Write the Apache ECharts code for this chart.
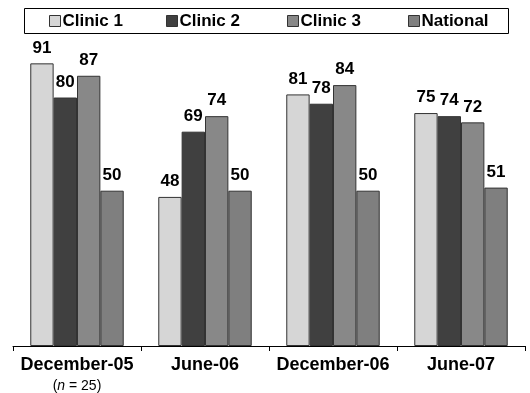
<!DOCTYPE html>
<html>
<head>
<meta charset="utf-8">
<script src="https://cdn.jsdelivr.net/npm/echarts@6/dist/echarts.min.js"></script>
<style>
  html, body { margin: 0; padding: 0; background: #fff; }
  #chart { width: 530px; height: 393px; }
</style>
</head>
<body>
<div id="chart"></div>
<script>
// Survey periods and per-site scores
var categories = ['December-05', 'June-06', 'December-06', 'June-07'];
var seriesNames = ['Clinic 1', 'Clinic 2', 'Clinic 3', 'National'];
var clinic1 = [91, 48, 81, 75];
var clinic2 = [80, 69, 78, 74];
var clinic3 = [87, 74, 84, 72];
var national = [50, 50, 50, 51];

var values = [clinic1, clinic2, clinic3, national];
var colors = ['#d6d6d6', '#404040', '#888888', '#7f7f7f'];
var FONT = '"Liberation Sans", Arial, sans-serif';

var chart = echarts.init(document.getElementById('chart'), null, { renderer: 'canvas' });

var series = seriesNames.map(function (name, i) {
  return {
    name: name,
    type: 'bar',
    data: values[i],
    barGap: '0%',
    barCategoryGap: '27%',
    itemStyle: { color: colors[i], borderColor: '#333', borderWidth: 1 },
    label: {
      show: true,
      position: 'top',
      distance: 7,
      color: '#000',
      fontFamily: FONT,
      fontWeight: 'bold',
      fontSize: 17
    }
  };
});

// one legend per entry so the entries sit at even spacing inside the box
var legendLefts = [49, 166, 287, 408];
var legends = seriesNames.map(function (name, i) {
  return {
    data: [name],
    left: legendLefts[i],
    top: 12,
    itemWidth: 11,
    itemHeight: 11,
    itemGap: 0,
    icon: 'rect',
    padding: 0,
    selectedMode: false,
    itemStyle: { borderColor: '#333', borderWidth: 1 },
    textStyle: {
      fontFamily: FONT, fontWeight: 'bold', fontSize: 17, lineHeight: 18,
      color: '#000', padding: [0, 0, 0, -3]
    }
  };
});

chart.setOption({
  animation: false,
  textStyle: { fontFamily: FONT },
  graphic: [{
    type: 'rect',
    shape: { x: 24.5, y: 8.5, width: 484, height: 25 },
    style: { fill: 'none', stroke: '#000', lineWidth: 1 },
    z: 10
  }],
  legend: legends,
  grid: { left: 13, right: 5, top: 35.4, bottom: 47 },
  xAxis: {
    type: 'category',
    data: categories,
    axisLine: { lineStyle: { color: '#000', width: 1 } },
    axisTick: { show: true, length: 5, lineStyle: { color: '#000' } },
    axisLabel: {
      margin: 8,
      interval: 0,
      color: '#000',
      fontFamily: FONT,
      fontWeight: 'bold',
      fontSize: 18,
      formatter: function (v, idx) {
        if (idx === 0) {
          return '{b|' + v + '}\n{s|(}{i|n}{s| = 25)}';
        }
        return '{b|' + v + '}';
      },
      rich: {
        b: { fontFamily: FONT, fontWeight: 'bold', fontSize: 18, color: '#000', lineHeight: 22 },
        s: { fontFamily: FONT, fontWeight: 'normal', fontSize: 14, color: '#000', lineHeight: 20 },
        i: { fontFamily: FONT, fontWeight: 'normal', fontSize: 14, fontStyle: 'italic', color: '#000', lineHeight: 20 }
      }
    }
  },
  yAxis: {
    type: 'value',
    min: 0,
    max: 100,
    interval: 20,
    show: false
  },
  series: series
});
</script>
</body>
</html>
